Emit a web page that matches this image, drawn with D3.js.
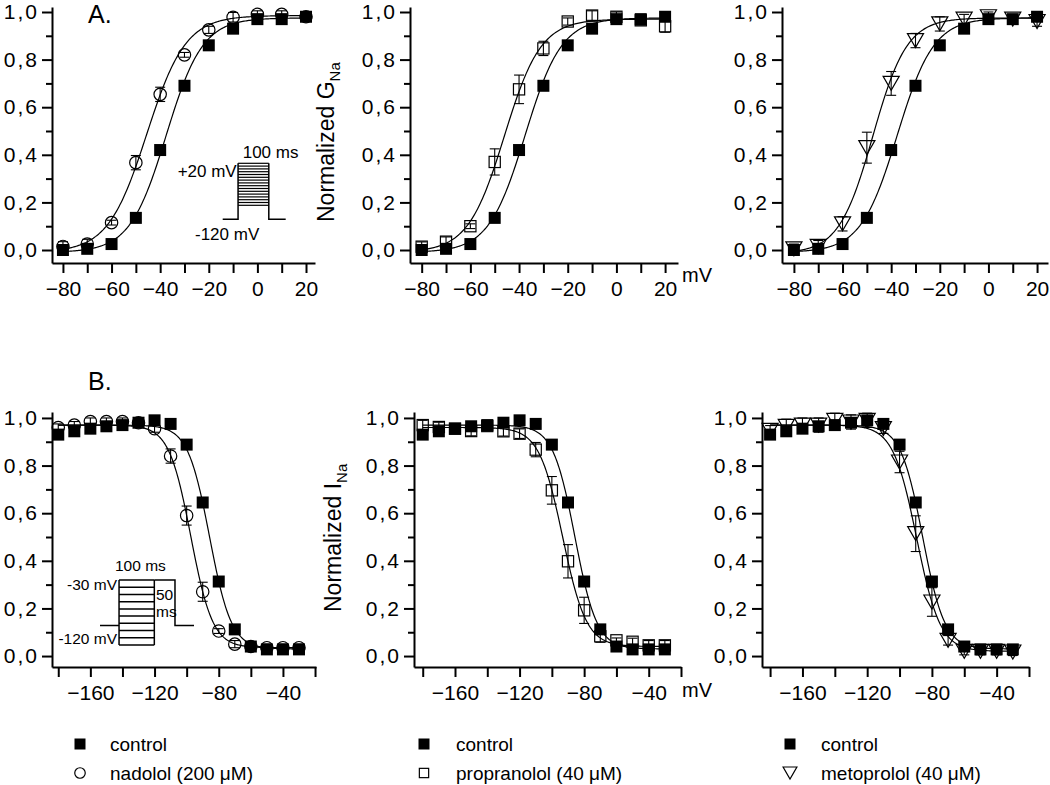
<!DOCTYPE html>
<html><head><meta charset="utf-8">
<script src="https://cdn.jsdelivr.net/npm/d3@7"></script>
<style>
body{margin:0;background:#fff;}
svg{display:block;font-family:"Liberation Sans",Arial,Helvetica,sans-serif;}
</style></head>
<body>
<svg id="chart" width="1050" height="785"></svg>
<script>
// ---------- DATA ----------
// Activation (A.) – test potentials (mV)
const vAct = [-80,-70,-60,-50,-40,-30,-20,-10,0,10,20];
const actControl     = [0.0, 0.005, 0.025, 0.135, 0.42, 0.69, 0.86, 0.93, 0.97, 0.97, 0.98];
const actNadolol     = [0.015, 0.025, 0.115, 0.367, 0.654, 0.82, 0.925, 0.978, 0.99, 0.99, 0.98];
const actNadololErr  = [0.02, 0.02, 0.01, 0.03, 0.03, 0.01, 0.015, 0.02, 0.015, 0.015, 0.015];
const actPropranolol    = [0.014, 0.035, 0.10, 0.37, 0.675, 0.847, 0.96, 0.985, 0.98, 0.965, 0.94];
const actPropranololErr = [0.02, 0.02, 0.01, 0.055, 0.06, 0.03, 0.015, 0.02, 0.02, 0.02, 0.025];
const actMetoprolol     = [0.005, 0.015, 0.11, 0.43, 0.70, 0.88, 0.95, 0.97, 0.98, 0.97, 0.96];
const actMetoprololErr  = [0.02, 0.025, 0.03, 0.065, 0.05, 0.03, 0.03, 0.02, 0.02, 0.015, 0.02];
// Boltzmann fit parameters [A_bottom, A_top, V1/2, k]
const fitActControl     = [-0.01, 0.975, -37.5, 7.5];
const fitActNadolol     = [-0.01, 0.985, -45.5, 8.0];
const fitActPropranolol = [-0.01, 0.970, -46.0, 7.5];
const fitActMetoprolol  = [-0.015, 0.975, -47.5, 7.0];

// Steady-state inactivation (B.) – prepulse potentials (mV)
const vInact = [-180,-170,-160,-150,-140,-130,-120,-110,-100,-90,-80,-70,-60,-50,-40,-30];
const inactControl       = [0.93, 0.944, 0.955, 0.965, 0.97, 0.98, 0.99, 0.975, 0.888, 0.645, 0.313, 0.112, 0.04, 0.028, 0.028, 0.028];
const inactNadolol       = [0.96, 0.97, 0.985, 0.985, 0.985, 0.98, 0.955, 0.84, 0.59, 0.27, 0.105, 0.05, 0.04, 0.035, 0.035, 0.035];
const inactNadololErr    = [0.015, 0.015, 0.015, 0.015, 0.015, 0.015, 0.015, 0.03, 0.04, 0.04, 0.01, 0.015, 0.015, 0.015, 0.015, 0.015];
const inactPropranolol    = [0.97, 0.962, 0.955, 0.945, 0.966, 0.944, 0.934, 0.867, 0.696, 0.398, 0.192, 0.083, 0.066, 0.06, 0.045, 0.045];
const inactPropranololErr = [0.02, 0.02, 0.02, 0.02, 0.02, 0.02, 0.02, 0.03, 0.058, 0.07, 0.055, 0.025, 0.01, 0.015, 0.02, 0.02];
const inactMetoprolol     = [0.948, 0.965, 0.97, 0.97, 0.99, 0.983, 0.99, 0.955, 0.815, 0.514, 0.227, 0.066, 0.02, 0.02, 0.02, 0.017];
const inactMetoprololErr  = [0.02, 0.03, 0.03, 0.03, 0.03, 0.03, 0.03, 0.02, 0.045, 0.075, 0.06, 0.02, 0.015, 0.015, 0.015, 0.015];
// Boltzmann fit parameters [A_top, A_bottom, V1/2, k]
const fitInactControl     = [0.97, 0.03, -85.7, 6.8];
const fitInactNadolol     = [0.97, 0.035, -97.4, 6.8];
const fitInactPropranolol = [0.96, 0.04, -93.3, 7.3];
const fitInactMetoprolol  = [0.97, 0.02, -89.4, 7.3];

// Axis ticks
const actTicks = [-80,-70,-60,-50,-40,-30,-20,-10,0,10,20];
const actTickLabels = [-80,-60,-40,-20,0,20];
const inactTicks = [-180,-160,-140,-120,-100,-80,-60,-40,-20];
const inactTickLabels = [-160,-120,-80,-40];
const yMajor = [0,0.2,0.4,0.6,0.8,1.0];
const yMinor = [0.1,0.3,0.5,0.7,0.9];

// Legend labels
const legendControl = "control";
const legendDrugs = ["nadolol (200 \u03BCM)", "propranolol (40 \u03BCM)", "metoprolol (40 \u03BCM)"];

// Protocol insets (schematic)
const protoAStepLevels = [20,13,6,-1,-8,-15,-22,-29,-36,-43,-50,-57,-64,-71,-78,-85]; // mV
const protoAHold = -120;
const protoBStepLevels = [-30,-40,-50,-60,-70,-80,-90,-100,-110,-120]; // mV
const protoBHold = -93;
const protoBTest = -30;

// ---------- DRAWING ----------
const svg = d3.select("#chart");
const FONT = '"Liberation Sans",Arial,Helvetica,sans-serif';
const fmtY = d => d3.format(".1f")(d).replace(".", ",");

const boltzAct = p => v => p[0] + (p[1]-p[0])/(1+Math.exp((p[2]-v)/p[3]));
const boltzInact = p => v => p[1] + (p[0]-p[1])/(1+Math.exp((v-p[2])/p[3]));

function marker(g, type, x, y, s) {
  if (type === "fsquare") {
    g.append("rect").attr("x", x-s/2).attr("y", y-s/2).attr("width", s).attr("height", s)
      .attr("fill", "#000");
  } else if (type === "square") {
    g.append("rect").attr("x", x-s/2+0.6).attr("y", y-s/2+0.6).attr("width", s-1.2).attr("height", s-1.2)
      .attr("fill", "none").attr("stroke", "#000").attr("stroke-width", 1.2);
  } else if (type === "circle") {
    g.append("circle").attr("cx", x).attr("cy", y).attr("r", s/2)
      .attr("fill", "none").attr("stroke", "#000").attr("stroke-width", 1.2);
  } else if (type === "triangle") {
    const w = s*1.15, h = s*1.0;
    g.append("path").attr("d", `M${x-w/2},${y-h/2}L${x+w/2},${y-h/2}L${x},${y+h/2}Z`)
      .attr("fill", "none").attr("stroke", "#000").attr("stroke-width", 1.2);
  }
}

function drawPanel(cfg) {
  const x = d3.scaleLinear().domain(cfg.xDom).range([cfg.x0, cfg.x1]);
  const y = d3.scaleLinear().domain(cfg.yDom).range(cfg.yRange);
  const g = svg.append("g");

  // axes
  const xAxisG = g.append("g").attr("transform", `translate(0,${cfg.yRange[0]})`)
    .call(d3.axisBottom(x).tickValues(cfg.ticks).tickSize(10).tickPadding(8).tickSizeOuter(0)
      .tickFormat(d => cfg.labels.includes(d) ? d3.format("d")(d) : ""));
  const yAxisG = g.append("g").attr("transform", `translate(${cfg.x0},0)`)
    .call(d3.axisLeft(y).tickValues(yMajor).tickSize(10).tickPadding(3).tickSizeOuter(0).tickFormat(fmtY));
  const yMinG = g.append("g").attr("transform", `translate(${cfg.x0},0)`)
    .call(d3.axisLeft(y).tickValues(yMinor).tickSize(6).tickSizeOuter(0).tickFormat(""));
  [xAxisG, yAxisG, yMinG].forEach(a => {
    a.selectAll("path.domain").attr("stroke", "#000").attr("stroke-width", 2);
    a.selectAll(".tick line").attr("stroke", "#000").attr("stroke-width", 2);
    a.selectAll("text").attr("fill", "#000").style("font-family", FONT).style("font-size", "21px");
  });
  yAxisG.selectAll("text").style("letter-spacing", "2px");
  yMinG.select("path.domain").remove();

  // fit curves
  const line = d3.line().x(d => x(d[0])).y(d => y(d[1]));
  const vs = d3.range(cfg.curveDom[0], cfg.curveDom[1] + 0.01, 0.5);
  [cfg.fitCtrl, cfg.fitDrug].forEach(f => {
    g.append("path").attr("d", line(vs.map(v => [v, f(v)])))
      .attr("fill", "none").attr("stroke", "#000").attr("stroke-width", 1.2);
  });

  // control markers
  cfg.v.forEach((v, i) => marker(g, "fsquare", x(v), y(cfg.ctrl[i]), 12));

  // drug error bars
  cfg.v.forEach((v, i) => {
    const cx = x(v), top = y(cfg.drug[i] + cfg.err[i]), bot = y(cfg.drug[i] - cfg.err[i]);
    g.append("line").attr("x1", cx).attr("x2", cx).attr("y1", top).attr("y2", bot)
      .attr("stroke", "#000").attr("stroke-width", 1.1);
    [top, bot].forEach(yy => g.append("line").attr("x1", cx-5).attr("x2", cx+5).attr("y1", yy).attr("y2", yy)
      .attr("stroke", "#000").attr("stroke-width", 1.1));
  });
  // drug markers
  cfg.v.forEach((v, i) => marker(g, cfg.sym, x(v), y(cfg.drug[i]), cfg.sym === "triangle" ? 14 : 12.4));
}

const topY = {yDom: [-0.0546, 1.021], yRange: [263, 7]};
const botY = {yDom: [-0.046, 1.025], yRange: [667, 412]};
const syms = ["circle", "square", "triangle"];
const actDrug = [actNadolol, actPropranolol, actMetoprolol];
const actErr = [actNadololErr, actPropranololErr, actMetoprololErr];
const actFit = [fitActNadolol, fitActPropranolol, fitActMetoprolol];
const inDrug = [inactNadolol, inactPropranolol, inactMetoprolol];
const inErr = [inactNadololErr, inactPropranololErr, inactMetoprololErr];
const inFit = [fitInactNadolol, fitInactPropranolol, fitInactMetoprolol];

const topLayout = [{x0: 52, x1: 315, xDom: [-84.5, 23.7]},
                   {x0: 410, x1: 678, xDom: [-84.8, 25.3]},
                   {x0: 782, x1: 1048, xDom: [-84.9, 24.5]}];
const botLayout = [{x0: 52, x1: 316, xDom: [-183.9, -19.4]},
                   {x0: 414, x1: 681, xDom: [-185.4, -20]},
                   {x0: 762, x1: 1029, xDom: [-185, -20]}];

topLayout.forEach((L, k) => drawPanel(Object.assign({}, L, topY, {
  ticks: actTicks, labels: actTickLabels, v: vAct, ctrl: actControl,
  drug: actDrug[k], err: actErr[k], sym: syms[k], curveDom: [-80, 20],
  fitCtrl: boltzAct(fitActControl), fitDrug: boltzAct(actFit[k])
})));
botLayout.forEach((L, k) => drawPanel(Object.assign({}, L, botY, {
  ticks: inactTicks, labels: inactTickLabels, v: vInact, ctrl: inactControl,
  drug: inDrug[k], err: inErr[k], sym: syms[k], curveDom: [-180, -30],
  fitCtrl: boltzInact(fitInactControl), fitDrug: boltzInact(inFit[k])
})));

// ---------- TEXT ----------
function txt(x, y, s, size, anchor) {
  return svg.append("text").attr("x", x).attr("y", y).attr("text-anchor", anchor || "start")
    .style("font-family", FONT).style("font-size", size + "px").attr("fill", "#000").text(s);
}
txt(88, 23, "A.", 25);
txt(88, 390, "B.", 25);
txt(682, 282, "mV", 20);
txt(682, 697, "mV", 20);

function yTitle(x, y, main, sub) {
  const t = svg.append("text").attr("transform", `translate(${x},${y}) rotate(-90)`)
    .style("font-family", FONT).style("font-size", "23px").attr("fill", "#000");
  t.append("tspan").text(main);
  t.append("tspan").attr("dy", 6).style("font-size", "15px").text(sub);
}
yTitle(334, 222, "Normalized G", "Na");
yTitle(341, 612, "Normalized I", "Na");

// ---------- INSETS ----------
const ins = svg.append("g").attr("stroke", "#000").attr("fill", "none");
// Inset A
{
  const tx = d3.scaleLinear().domain([-50, 155]).range([222.7, 285.7]);
  const vy = d3.scaleLinear().domain([-120, 20]).range([219.3, 163.3]);
  const top = d3.max(protoAStepLevels);
  ins.append("path").attr("stroke-width", 1.5)
    .attr("d", d3.line()([[tx(-50), vy(protoAHold)], [tx(0), vy(protoAHold)], [tx(0), vy(top)]]));
  ins.append("path").attr("stroke-width", 1.5)
    .attr("d", d3.line()([[tx(100), vy(top)], [tx(100), vy(protoAHold)], [tx(155), vy(protoAHold)]]));
  protoAStepLevels.forEach(l => ins.append("line").attr("stroke-width", 1.2)
    .attr("x1", tx(0)).attr("x2", tx(100)).attr("y1", vy(l)).attr("y2", vy(l)));
  txt(242.7, 158, "100 ms", 17);
  txt(236.7, 176.5, "+20 mV", 17, "end");
  txt(195, 240, "-120 mV", 17);
}
// Inset B
{
  const tx = d3.scaleLinear().domain([-54, 212.5]).range([100, 194]);
  const vy = d3.scaleLinear().domain([-120, -30]).range([645, 580]);
  const hi = d3.max(protoBStepLevels), lo = d3.min(protoBStepLevels);
  ins.append("line").attr("stroke-width", 1.5)
    .attr("x1", tx(-54)).attr("x2", tx(0)).attr("y1", vy(protoBHold)).attr("y2", vy(protoBHold));
  ins.append("line").attr("stroke-width", 1.5)
    .attr("x1", tx(0)).attr("x2", tx(0)).attr("y1", vy(hi)).attr("y2", vy(lo));
  ins.append("line").attr("stroke-width", 1.5)
    .attr("x1", tx(100)).attr("x2", tx(100)).attr("y1", vy(hi)).attr("y2", vy(lo));
  protoBStepLevels.forEach(l => ins.append("line").attr("stroke-width", 1.5)
    .attr("x1", tx(0)).attr("x2", tx(100)).attr("y1", vy(l)).attr("y2", vy(l)));
  ins.append("path").attr("stroke-width", 1.5)
    .attr("d", d3.line()([[tx(100), vy(protoBTest)], [tx(158.6), vy(protoBTest)], [tx(158.6), vy(protoBHold)], [tx(212.5), vy(protoBHold)]]));
  txt(115, 570.5, "100 ms", 15.5);
  txt(117, 590, "-30 mV", 15.5, "end");
  txt(156, 600, "50", 15.5);
  txt(156, 617, "ms", 15.5);
  txt(117, 644, "-120 mV", 15.5, "end");
}

// ---------- LEGENDS ----------
const legendX = [{sx: 80, tx: 110}, {sx: 424, tx: 456}, {sx: 790, tx: 821}];
legendX.forEach((L, k) => {
  const lg = svg.append("g");
  marker(lg, "fsquare", L.sx, 744, 11);
  marker(lg, syms[k], L.sx, 773, syms[k] === "triangle" ? 12 : 10.5);
  txt(L.tx, 751, legendControl, 19);
  txt(L.tx, 780, legendDrugs[k], 19);
});
</script>
</body></html>
